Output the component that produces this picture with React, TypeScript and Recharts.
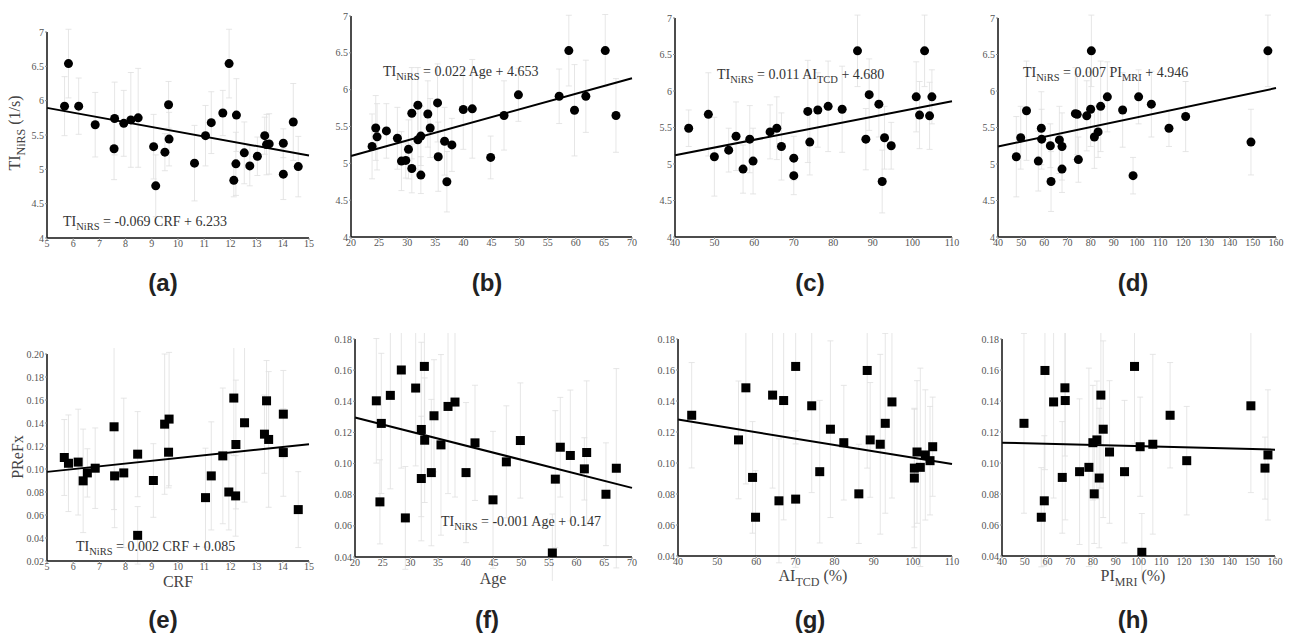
import React from 'react';
import { ScatterChart, Scatter, XAxis, YAxis, ErrorBar, ReferenceLine } from 'recharts';

// (a) TI_NiRS vs CRF
const aX = [5.67, 5.82, 6.21, 6.84, 7.58, 7.56, 7.93, 8.2, 8.48, 9.07, 9.15, 9.5, 9.64, 9.66, 10.63, 11.05, 11.27, 11.71, 11.95, 12.13, 12.21, 12.23, 12.53, 12.74, 13.03, 13.31, 13.38, 13.48, 14.02, 14.02, 14.4, 14.59];
const aY = [5.92, 6.54, 5.92, 5.65, 5.74, 5.3, 5.67, 5.72, 5.75, 5.33, 4.76, 5.25, 5.94, 5.44, 5.09, 5.49, 5.68, 5.82, 6.54, 4.84, 5.08, 5.79, 5.24, 5.05, 5.19, 5.49, 5.36, 5.37, 5.38, 4.93, 5.69, 5.04];
const aE = [0.43, 0.5, 0.41, 0.47, 0.53, 0.45, 0.48, 0.69, 0.72, 0.47, 0.45, 0.27, 0.34, 0.39, 0.55, 0.44, 0.45, 0.33, 0.5, 0.24, 0.46, 0.53, 0.45, 0.29, 0.28, 0.27, 0.44, 0.44, 0.21, 0.37, 0.56, 0.44];
const aFit = [5.895, 5.2];

// (b) TI_NiRS vs Age
const bX = [23.75, 24.4, 24.64, 26.3, 28.26, 28.98, 29.75, 30.23, 30.82, 30.82, 31.9, 31.9, 32.43, 32.43, 33.67, 34.09, 35.4, 35.52, 36.65, 37.06, 37.95, 39.98, 41.58, 44.85, 47.23, 49.79, 57.04, 58.76, 59.77, 61.79, 65.24, 67.15];
const bY = [5.23, 5.48, 5.36, 5.44, 5.34, 5.03, 5.04, 5.19, 5.68, 4.93, 5.79, 5.32, 4.84, 5.37, 5.67, 5.48, 5.82, 5.09, 5.3, 4.75, 5.25, 5.73, 5.74, 5.08, 5.65, 5.93, 5.91, 6.53, 5.72, 5.91, 6.53, 5.65];
const bE = [0.44, 0.44, 0.45, 0.37, 0.42, 0.4, 0.24, 0.4, 0.62, 0.33, 0.51, 0.41, 0.25, 0.4, 0.45, 0.4, 0.53, 0.47, 0.46, 0.41, 0.36, 0.54, 0.67, 0.29, 0.47, 0.36, 0.37, 0.48, 0.62, 0.49, 0.49, 0.5];
const bFit = [5.1, 6.155];

// (c) TI_NiRS vs AI_TCD
const cX = [43.46, 48.43, 49.95, 53.57, 55.43, 57.2, 58.89, 59.73, 64.03, 65.72, 66.9, 70.02, 70.02, 73.56, 74.06, 76.09, 78.7, 82.24, 86.12, 88.23, 89.07, 91.52, 92.36, 92.95, 94.64, 100.96, 101.8, 103.07, 104.33, 104.92];
const cY = [5.49, 5.68, 5.1, 5.19, 5.38, 4.93, 5.34, 5.04, 5.44, 5.49, 5.24, 5.08, 4.84, 5.72, 5.3, 5.74, 5.79, 5.75, 6.55, 5.34, 5.95, 5.82, 4.76, 5.36, 5.25, 5.92, 5.67, 6.55, 5.66, 5.92];
const cE = [0.25, 0.57, 0.54, 0.3, 0.47, 0.33, 0.46, 0.45, 0.37, 0.43, 0.46, 0.3, 0.26, 0.7, 0.45, 0.51, 0.62, 0.59, 0.49, 0.42, 0.49, 0.45, 0.43, 0.43, 0.32, 0.48, 0.46, 0.49, 0.46, 0.37];
const cFit = [5.12, 5.86];

// (d) TI_NiRS vs PI_MRI
const dX = [47.9, 49.8, 52.3, 57.4, 58.7, 58.85, 62.6, 62.9, 66.5, 67.63, 67.63, 73.4, 74.2, 74.7, 78.3, 80.0, 80.3, 81.6, 83.2, 84.3, 87.2, 93.8, 98.3, 100.7, 106.2, 113.8, 121.0, 149.2, 156.5];
const dY = [5.1, 5.36, 5.73, 5.04, 5.49, 5.34, 5.25, 4.76, 5.33, 5.24, 4.93, 5.69, 5.68, 5.06, 5.66, 5.75, 6.55, 5.37, 5.44, 5.79, 5.92, 5.74, 4.84, 5.92, 5.82, 5.49, 5.65, 5.3, 6.55];
const dE = [0.55, 0.43, 0.68, 0.41, 0.5, 0.41, 0.3, 0.41, 0.46, 0.46, 0.32, 0.63, 0.55, 0.31, 0.48, 0.51, 0.49, 0.43, 0.35, 0.62, 0.48, 0.51, 0.25, 0.37, 0.45, 0.25, 0.48, 0.45, 0.49];
const dFit = [5.24, 6.04];

// (e) PReFx vs CRF
const eX = [5.66, 5.82, 6.19, 6.38, 6.54, 6.84, 7.56, 7.58, 7.93, 8.46, 8.46, 9.06, 9.49, 9.66, 9.64, 11.05, 11.27, 11.71, 11.94, 12.13, 12.2, 12.21, 12.54, 13.3, 13.38, 13.46, 14.02, 14.02, 14.59];
const eY = [0.11, 0.105, 0.106, 0.0897, 0.0966, 0.1007, 0.1367, 0.094, 0.0966, 0.1129, 0.0423, 0.09, 0.139, 0.1434, 0.1146, 0.0751, 0.094, 0.1114, 0.08, 0.1617, 0.0766, 0.1213, 0.1402, 0.1303, 0.1593, 0.1257, 0.1477, 0.1143, 0.0647];
const eE = [0.033, 0.042, 0.046, 0.045, 0.021, 0.035, 0.072, 0.045, 0.065, 0.037, 0.025, 0.032, 0.061, 0.058, 0.031, 0.043, 0.047, 0.059, 0.033, 0.05, 0.035, 0.056, 0.069, 0.034, 0.035, 0.059, 0.038, 0.038, 0.033];
const eFit = [0.0975, 0.1216];

// (f) PReFx vs Age
const fX = [23.85, 24.75, 24.5, 26.38, 28.36, 29.09, 30.95, 31.97, 31.97, 32.52, 32.58, 33.78, 34.26, 35.52, 36.79, 38.05, 40.04, 41.66, 44.91, 47.32, 49.85, 55.62, 56.16, 57.06, 58.87, 61.4, 61.82, 65.3, 67.17];
const fY = [0.1403, 0.1258, 0.0754, 0.1438, 0.1601, 0.0651, 0.1485, 0.1219, 0.0904, 0.1624, 0.115, 0.0942, 0.1307, 0.112, 0.1367, 0.1395, 0.0942, 0.1133, 0.0767, 0.1011, 0.1148, 0.0426, 0.09, 0.1105, 0.1052, 0.0966, 0.1071, 0.0803, 0.097];
const fE = [0.04, 0.045, 0.027, 0.06, 0.063, 0.033, 0.05, 0.056, 0.04, 0.048, 0.04, 0.047, 0.036, 0.058, 0.056, 0.061, 0.045, 0.037, 0.044, 0.036, 0.037, 0.025, 0.044, 0.032, 0.042, 0.02, 0.046, 0.033, 0.064];
const fFit = [0.1296, 0.0844];

// (g) PReFx vs AI_TCD
const gX = [43.5, 55.46, 57.34, 59.05, 59.81, 64.17, 65.79, 66.99, 70.06, 70.06, 74.16, 76.21, 78.94, 82.36, 86.2, 88.34, 89.1, 91.67, 92.95, 94.66, 100.38, 100.38, 101.06, 101.91, 103.19, 104.39, 105.07];
const gY = [0.1308, 0.1149, 0.1485, 0.0907, 0.065, 0.1438, 0.0756, 0.1403, 0.1623, 0.0767, 0.1369, 0.0944, 0.1218, 0.1131, 0.0801, 0.1597, 0.1149, 0.1121, 0.1256, 0.1394, 0.0967, 0.0903, 0.1071, 0.0972, 0.1052, 0.1015, 0.1105];
const gE = [0.034, 0.038, 0.062, 0.036, 0.03, 0.06, 0.04, 0.077, 0.05, 0.044, 0.056, 0.046, 0.057, 0.037, 0.032, 0.063, 0.037, 0.058, 0.058, 0.062, 0.038, 0.045, 0.046, 0.064, 0.042, 0.035, 0.032];
const gFit = [0.128, 0.0993];

// (h) PReFx vs PI_MRI
const hX = [49.66, 57.27, 58.59, 58.88, 62.68, 66.49, 67.66, 67.8, 74.1, 78.2, 79.95, 80.54, 81.71, 82.73, 83.46, 84.49, 87.27, 93.86, 98.25, 100.73, 101.46, 106.29, 113.9, 121.2, 149.4, 155.6, 156.9];
const hY = [0.1256, 0.065, 0.0756, 0.1597, 0.1394, 0.0907, 0.1485, 0.1403, 0.0944, 0.0972, 0.1131, 0.0801, 0.1149, 0.0903, 0.1438, 0.1218, 0.1071, 0.0944, 0.1623, 0.1105, 0.0424, 0.1121, 0.1308, 0.1015, 0.1369, 0.0967, 0.1052];
const hE = [0.058, 0.032, 0.042, 0.064, 0.062, 0.036, 0.044, 0.077, 0.047, 0.064, 0.037, 0.032, 0.038, 0.045, 0.06, 0.057, 0.046, 0.046, 0.05, 0.032, 0.025, 0.058, 0.034, 0.035, 0.056, 0.02, 0.042];
const hFit = [0.1131, 0.1086];

const tiTicks = [4, 4.5, 5, 5.5, 6, 6.5, 7];
const prefxTicksE = [0.02, 0.04, 0.06, 0.08, 0.1, 0.12, 0.14, 0.16, 0.18, 0.2];
const prefxTicks = [0.04, 0.06, 0.08, 0.1, 0.12, 0.14, 0.16, 0.18];
const crfTicks = [5, 6, 7, 8, 9, 10, 11, 12, 13, 14, 15];
const ageTicks = [20, 25, 30, 35, 40, 45, 50, 55, 60, 65, 70];
const aiTicks = [40, 50, 60, 70, 80, 90, 100, 110];
const piTicks = [40, 50, 60, 70, 80, 90, 100, 110, 120, 130, 140, 150, 160];

const serif = '"Liberation Serif", "DejaVu Serif", serif';
const sans = '"Liberation Sans", Arial, sans-serif';

const zip = (xs: number[], ys: number[], es: number[]) =>
  xs.map((x, i) => ({ x, y: ys[i], e: es[i] }));

const Dot = (p: any) => <circle cx={p.cx} cy={p.cy} r={4.5} fill="#000" />;
const Sq = (p: any) => <rect x={p.cx - 4.5} y={p.cy - 4.5} width={9} height={9} fill="#000" />;

const Sub = ({ children }: { children: React.ReactNode }) => (
  <sub style={{ fontSize: '0.75em', verticalAlign: '-0.35em' }}>{children}</sub>
);

type Panel = {
  box: [number, number, number, number]; // left, right, top, bottom of plot area
  xDomain: [number, number];
  xTicks: number[];
  yDomain: [number, number];
  yTicks: number[];
  yFmt: (v: number) => string;
  data: { x: number; y: number; e: number }[];
  fit: number[];
  square: boolean;
};

const panels: Panel[] = [
  { box: [47, 309, 32, 238], xDomain: [5, 15], xTicks: crfTicks, yDomain: [4, 7], yTicks: tiTicks, yFmt: (v) => String(v), data: zip(aX, aY, aE), fit: aFit, square: false },
  { box: [351, 632, 16, 237], xDomain: [20, 70], xTicks: ageTicks, yDomain: [4, 7], yTicks: tiTicks, yFmt: (v) => String(v), data: zip(bX, bY, bE), fit: bFit, square: false },
  { box: [675, 952, 18, 237], xDomain: [40, 110], xTicks: aiTicks, yDomain: [4, 7], yTicks: tiTicks, yFmt: (v) => String(v), data: zip(cX, cY, cE), fit: cFit, square: false },
  { box: [998, 1276, 18, 237], xDomain: [40, 160], xTicks: piTicks, yDomain: [4, 7], yTicks: tiTicks, yFmt: (v) => String(v), data: zip(dX, dY, dE), fit: dFit, square: false },
  { box: [47, 309, 354, 561], xDomain: [5, 15], xTicks: crfTicks, yDomain: [0.02, 0.2], yTicks: prefxTicksE, yFmt: (v) => v.toFixed(2), data: zip(eX, eY, eE), fit: eFit, square: true },
  { box: [355, 632, 339, 557], xDomain: [20, 70], xTicks: ageTicks, yDomain: [0.04, 0.18], yTicks: prefxTicks, yFmt: (v) => v.toFixed(2), data: zip(fX, fY, fE), fit: fFit, square: true },
  { box: [678, 952, 339, 556], xDomain: [40, 110], xTicks: aiTicks, yDomain: [0.04, 0.18], yTicks: prefxTicks, yFmt: (v) => v.toFixed(2), data: zip(gX, gY, gE), fit: gFit, square: true },
  { box: [1002, 1275, 339, 556], xDomain: [40, 160], xTicks: piTicks, yDomain: [0.04, 0.18], yTicks: prefxTicks, yFmt: (v) => v.toFixed(2), data: zip(hX, hY, hE), fit: hFit, square: true },
];

const tickStyle = { fontSize: 10, fill: '#555', fontFamily: serif };

function PanelChart({ p }: { p: Panel }) {
  const yw = 40, mr = 12, mt = 6, xh = 24;
  const [L, R, T, B] = p.box;
  return (
    <div style={{ position: 'absolute', left: L - yw, top: T - mt }}>
      <ScatterChart
        width={R - L + yw + mr}
        height={B - T + mt + xh}
        margin={{ top: mt, right: mr, bottom: 0, left: 0 }}
      >
        <XAxis
          type="number"
          dataKey="x"
          domain={p.xDomain}
          ticks={p.xTicks}
          allowDataOverflow
          height={xh}
          interval={0}
          tick={tickStyle}
          tickSize={2}
          tickMargin={0}
          axisLine={{ stroke: '#111', strokeWidth: 1.5 }}
          tickLine={{ stroke: '#888' }}
        />
        <YAxis
          type="number"
          dataKey="y"
          domain={p.yDomain}
          ticks={p.yTicks}
          allowDataOverflow
          width={yw}
          interval={0}
          tickFormatter={p.yFmt}
          tick={tickStyle}
          tickSize={2}
          tickMargin={1}
          axisLine={{ stroke: '#111', strokeWidth: 1.5 }}
          tickLine={{ stroke: '#888' }}
        />
        <Scatter data={p.data} shape={p.square ? Sq : Dot} isAnimationActive={false}>
          <ErrorBar dataKey="e" direction="y" width={3} stroke="#e0e0e0" strokeWidth={0.8} />
        </Scatter>
        <ReferenceLine
          segment={[
            { x: p.xDomain[0], y: p.fit[0] },
            { x: p.xDomain[1], y: p.fit[1] },
          ]}
          stroke="#000"
          strokeWidth={2}
          ifOverflow="visible"
        />
      </ScatterChart>
    </div>
  );
}

const abs = (left: number, top: number, extra: React.CSSProperties = {}): React.CSSProperties => ({
  position: 'absolute',
  left,
  top,
  whiteSpace: 'nowrap',
  ...extra,
});

const eqStyle: React.CSSProperties = { fontFamily: serif, fontSize: 14, lineHeight: '14px', color: '#333' };
const axisLabelStyle: React.CSSProperties = { fontFamily: serif, fontSize: 16, lineHeight: '16px', color: '#444' };
const letterStyle: React.CSSProperties = { fontFamily: sans, fontWeight: 'bold', fontSize: 24, lineHeight: '24px', color: '#222', transform: 'translate(-50%, -50%)' };

const equations: { x: number; y: number; node: React.ReactNode }[] = [
  { x: 63, y: 215, node: <>TI<Sub>NiRS</Sub> = -0.069 CRF + 6.233</> },
  { x: 383, y: 65, node: <>TI<Sub>NiRS</Sub> = 0.022 Age + 4.653</> },
  { x: 717, y: 68, node: <>TI<Sub>NiRS</Sub> = 0.011 AI<Sub>TCD</Sub> + 4.680</> },
  { x: 1023, y: 66, node: <>TI<Sub>NiRS</Sub> = 0.007 PI<Sub>MRI</Sub> + 4.946</> },
  { x: 76, y: 540, node: <>TI<Sub>NiRS</Sub> = 0.002 CRF + 0.085</> },
  { x: 441, y: 515, node: <>TI<Sub>NiRS</Sub> = -0.001 Age + 0.147</> },
];

const xLabels: { x: number; y: number; node: React.ReactNode }[] = [
  { x: 178, y: 582, node: <>CRF</> },
  { x: 493, y: 579, node: <>Age</> },
  { x: 813, y: 579, node: <>AI<Sub>TCD</Sub> (%)</> },
  { x: 1133, y: 579, node: <>PI<Sub>MRI</Sub> (%)</> },
];

const letters = [
  { x: 163, y: 283, t: '(a)' },
  { x: 487, y: 283, t: '(b)' },
  { x: 810, y: 283, t: '(c)' },
  { x: 1133, y: 283, t: '(d)' },
  { x: 163, y: 620, t: '(e)' },
  { x: 487, y: 620, t: '(f)' },
  { x: 810, y: 620, t: '(g)' },
  { x: 1133, y: 620, t: '(h)' },
];

export default function App() {
  return (
    <div style={{ position: 'absolute', left: 0, top: 0, width: 1290, height: 634, background: '#fff', overflow: 'hidden' }}>
      {panels.map((p, i) => (
        <PanelChart key={i} p={p} />
      ))}
      {equations.map((e, i) => (
        <div key={i} style={abs(e.x, e.y, eqStyle)}>{e.node}</div>
      ))}
      {xLabels.map((l, i) => (
        <div key={i} style={abs(l.x, l.y, { ...axisLabelStyle, transform: 'translate(-50%, -50%)' })}>{l.node}</div>
      ))}
      <div style={abs(18, 133, { ...axisLabelStyle, transform: 'translate(-50%, -50%) rotate(-90deg)' })}>
        TI<Sub>NiRS</Sub> (1/s)
      </div>
      <div style={abs(18, 457, { ...axisLabelStyle, transform: 'translate(-50%, -50%) rotate(-90deg)' })}>
        PReFx
      </div>
      {letters.map((l, i) => (
        <div key={i} style={abs(l.x, l.y, letterStyle)}>{l.t}</div>
      ))}
    </div>
  );
}
